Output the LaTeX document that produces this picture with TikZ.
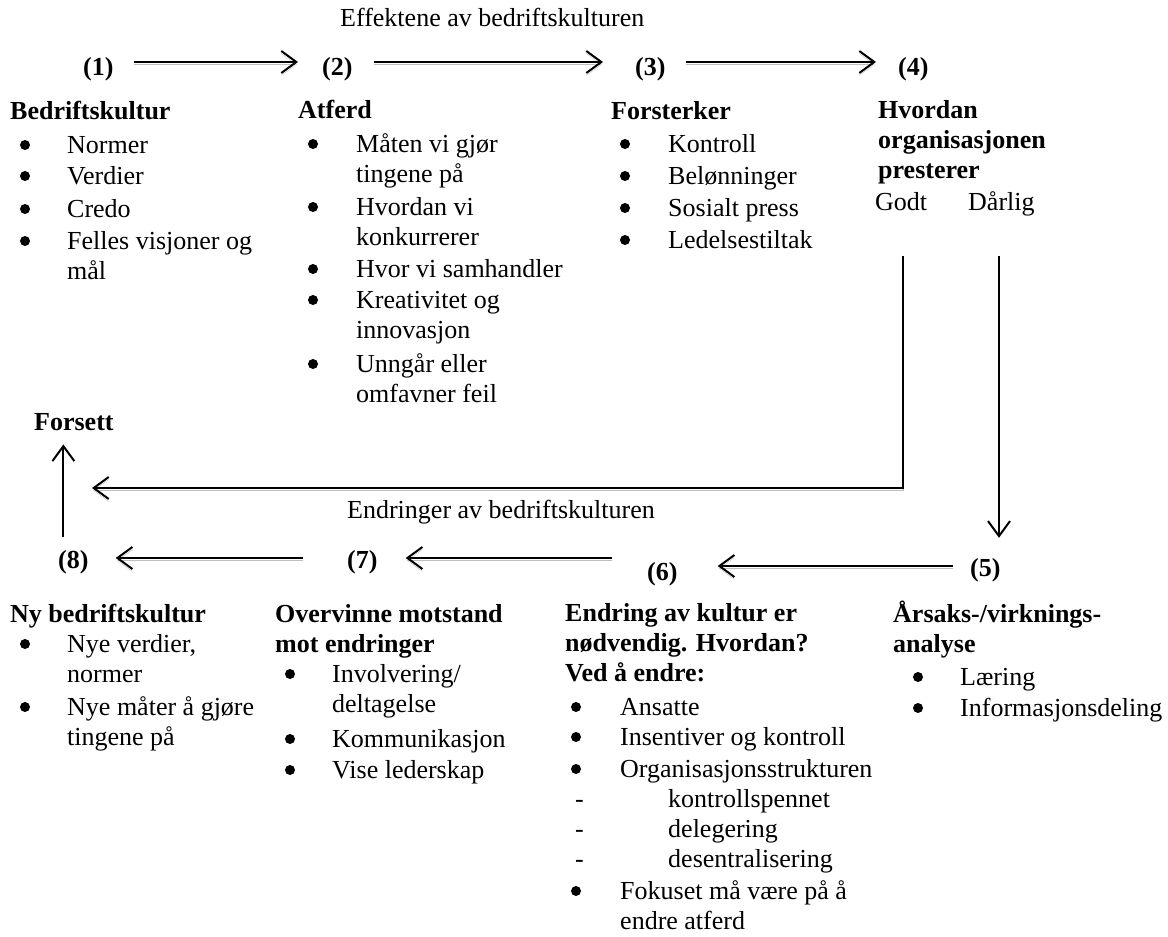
\documentclass[tikz,border=0pt]{standalone}
\usepackage{fontspec}
\setmainfont{Liberation Serif}
\usetikzlibrary{arrows.meta}
\begin{document}
\begin{tikzpicture}[x=1pt,y=-1pt,
  txt/.style={inner sep=0pt, anchor=base west, align=left,
    font=\fontsize{26}{30}\selectfont},
  head/.style={txt, font=\fontsize{26}{30}\selectfont\bfseries},
  dot/.style={circle, fill=black, inner sep=0pt, minimum size=10pt},
  dsh/.style={inner sep=0pt, anchor=base west, font=\fontsize{26}{30}\selectfont},
  shade/.style={preaction={draw=black!25, transform canvas={yshift=-2.5pt}}},
  arr/.style={line width=2pt, shade,
    -{Straight Barb[length=15pt,width=22pt,line width=2pt]}},
  plain/.style={line width=2pt, -{Straight Barb[length=15pt,width=22pt,line width=2pt]}}]
\useasboundingbox (0,0) rectangle (1168,937);

% list helpers (a multi-line node sits on the baseline of its last line)
% one-line item: name, bullet x, text x, baseline, text
\newcommand\bitem[5]{%
  \node[dot] (#1b) at (#2,{#4-8}) {};
  \node[txt] (#1) at (#3,#4) {#5};}
% two-line item: same arguments, baseline of the first line
\newcommand\bitemm[5]{%
  \node[dot] (#1b) at (#2,{#4-8}) {};
  \node[txt] (#1) at (#3,{#4+30}) {#5};}
% dash sub-item
\newcommand\ditem[5]{%
  \node[dsh] (#1b) at (#2,#4) {-};
  \node[txt] (#1) at (#3,#4) {#5};}

% ---- titles over the two flows
\node[txt] (ttop) at (340,26) {Effektene av bedriftskulturen};
\node[txt] (tbot) at (347,518) {Endringer av bedriftskulturen};

% ---- stage numbers
\node[head] (n1) at (83,75) {(1)};
\node[head] (n2) at (322,75) {(2)};
\node[head] (n3) at (635,75) {(3)};
\node[head] (n4) at (898,75) {(4)};
\node[head] (n8) at (58,568) {(8)};
\node[head] (n7) at (347,568) {(7)};
\node[head] (n6) at (647,580) {(6)};
\node[head] (n5) at (970,576) {(5)};

% ---- (1) Bedriftskultur
\node[head] (h1) at (10,119) {Bedriftskultur};
\bitem{c1a}{25}{67}{153}{Normer}
\bitem{c1b}{25}{67}{184}{Verdier}
\bitem{c1c}{25}{67}{217}{Credo}
\bitemm{c1d}{25}{67}{249}{Felles visjoner og\\mål}

% ---- (2) Atferd
\node[head] (h2) at (298,118) {Atferd};
\bitemm{c2a}{313}{356}{152}{Måten vi gjør\\tingene på}
\bitemm{c2b}{313}{356}{215}{Hvordan vi\\konkurrerer}
\bitem{c2c}{313}{356}{277}{Hvor vi samhandler}
\bitemm{c2d}{313}{356}{308}{Kreativitet og\\innovasjon}
\bitemm{c2e}{313}{356}{372}{Unngår eller\\omfavner feil}

% ---- (3) Forsterker
\node[head] (h3) at (611,119) {Forsterker};
\bitem{c3a}{625}{668}{152}{Kontroll}
\bitem{c3b}{625}{668}{184}{Belønninger}
\bitem{c3c}{625}{668}{216}{Sosialt press}
\bitem{c3d}{625}{668}{248}{Ledelsestiltak}

% ---- (4) Hvordan organisasjonen presterer
\node[head] (h4) at (878,178) {Hvordan\\organisasjonen\\presterer};
\node[txt] (godt) at (875,210) {Godt};
\node[txt] (darlig) at (968,210) {Dårlig};

% ---- (5) Årsaks-/virkningsanalyse
\node[head] (h5) at (893,652) {Årsaks-/virknings-\\analyse};
\bitem{c5a}{918}{960}{685}{Læring}
\bitem{c5b}{918}{960}{716}{Informasjonsdeling}

% ---- (6) Endring av kultur
\node[head] (h6) at (565,681) {Endring av kultur er\\nødvendig. Hvordan?\\Ved å endre:};
\bitem{c6a}{576}{620}{715}{Ansatte}
\bitem{c6b}{576}{620}{745}{Insentiver og kontroll}
\bitem{c6c}{576}{620}{777}{Organisasjonsstrukturen}
\ditem{c6d}{575}{668}{807}{kontrollspennet}
\ditem{c6e}{575}{668}{837}{delegering}
\ditem{c6f}{575}{668}{867}{desentralisering}
\bitemm{c6g}{576}{620}{899}{Fokuset må være på å\\endre atferd}

% ---- (7) Overvinne motstand
\node[head] (h7) at (275,652) {Overvinne motstand\\mot endringer};
\bitemm{c7a}{290}{332}{682}{Involvering/\\deltagelse}
\bitem{c7b}{290}{332}{747}{Kommunikasjon}
\bitem{c7c}{290}{332}{778}{Vise lederskap}

% ---- (8) Ny bedriftskultur
\node[head] (h8) at (10,622) {Ny bedriftskultur};
\bitemm{c8a}{25}{67}{652}{Nye verdier,\\normer}
\bitemm{c8b}{25}{67}{715}{Nye måter å gjøre\\tingene på}

\node[head] (forsett) at (34,430) {Forsett};

% ---- connectors, top flow
\draw[arr] ([xshift=20pt,yshift=13pt]n1.base east) -- ([xshift=-24pt,yshift=13pt]n2.base west);
\draw[arr] ([xshift=21pt,yshift=13pt]n2.base east) -- ([xshift=-32pt,yshift=13pt]n3.base west);
\draw[arr] ([xshift=20pt,yshift=13pt]n3.base east) -- ([xshift=-22pt,yshift=13pt]n4.base west);

% ---- connectors, bottom flow
\draw[arr] ([xshift=-17pt,yshift=10pt]n5.base west) -- ([xshift=40pt,yshift=10pt]n6.base east |- n5.base);
\draw[arr] ([xshift=-35pt,yshift=10pt]n6.base west |- n7.base) -- ([xshift=28pt,yshift=10pt]n7.base east);
\draw[arr] ([xshift=-44pt,yshift=10pt]n7.base west) -- ([xshift=27pt,yshift=10pt]n8.base east);

% ---- good result: back to continue
\coordinate (gstart) at (903,256);
\coordinate (gend) at (92,488);
\draw[arr] (gstart) |- (gend);
\draw[plain, shorten <=13pt, shorten >=14pt] ([xshift=-10pt]n8.north) -- ([xshift=-10pt]n8.north |- forsett.south);

% ---- poor result: analyse
\coordinate (dstart) at (999,256);
\draw[plain, shorten >=20pt] (dstart) -- (dstart |- n5.north);
\end{tikzpicture}
\end{document}
